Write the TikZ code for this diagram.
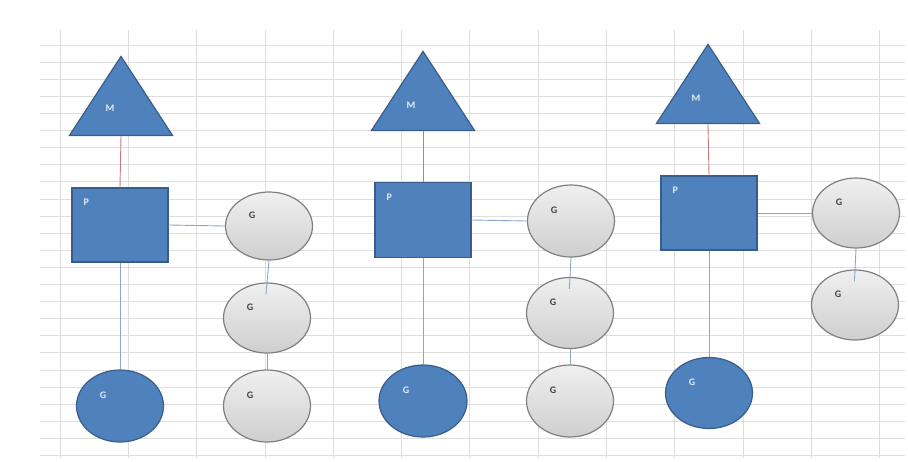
\documentclass[tikz,border=0pt]{standalone}
\usepackage{fontspec}
\setmainfont{Carlito}
\usetikzlibrary{shapes.geometric}
\definecolor{shapeblue}{HTML}{4F81BD}
\definecolor{shapeedge}{HTML}{385D8A}
\definecolor{gedge}{HTML}{7F7F7F}
\definecolor{linkred}{HTML}{C87A7A}
\definecolor{linkblue}{HTML}{8AA6CC}
\definecolor{gridline}{HTML}{DEDEDE}
\begin{document}
\begin{tikzpicture}[x=1pt, y=-1pt,
    mtri/.style={draw=shapeedge, fill=shapeblue, line width=1.2pt, isosceles triangle, isosceles triangle stretches, shape border rotate=90, minimum width=103pt, minimum height=79pt, inner sep=0pt, anchor=lower side},
    pbox/.style={draw=shapeedge, fill=shapeblue, line width=1.2pt, rectangle, minimum width=96pt, minimum height=74pt, inner sep=0pt},
    gblue/.style={draw=shapeedge, fill=shapeblue, line width=1.2pt, ellipse, minimum width=87pt, minimum height=72pt, inner sep=0pt},
    ggray/.style={draw=gedge, top color=gray!12, bottom color=gray!38, line width=1.2pt, ellipse, minimum width=87pt, minimum height=70pt, inner sep=0pt},
    wtext/.style={text=white!85!shapeblue, font=\fontsize{10}{12}\selectfont\bfseries, inner sep=0pt},
    dtext/.style={text=black!75, font=\fontsize{10}{12}\selectfont\bfseries, inner sep=0pt},
    redlink/.style={draw=linkred, line width=0.9pt},
    bluelink/.style={draw=linkblue, line width=0.9pt}]
    \useasboundingbox (0,0) rectangle (908,461);

    % Spreadsheet grid
    \foreach \gx in {0,...,12} {
        \draw[gridline, line width=0.8pt] (60+68.3*\gx, 30) -- (60+68.3*\gx, 458);
    }
    \foreach \gy in {0,...,24} {
        \draw[gridline, line width=0.8pt] (40, 45+17.1*\gy) -- (905, 45+17.1*\gy);
    }

    % Group 1
    \node[mtri] (m1) at (121,136) {};
    \node[pbox] (p1) at (120,225) {};
    \node[gblue] (g1) at (120,406) {};
    \node[ggray, minimum height=68pt] (ga1) at (269,226) {};
    \node[ggray] (ga2) at (267,318) {};
    \node[ggray, minimum height=72pt] (ga3) at (267,406) {};

    % Group 2
    \node[mtri] (m2) at (423,131) {};
    \node[pbox, minimum height=75pt] (p2) at (423,220) {};
    \node[gblue, minimum width=88pt] (g2) at (423,401) {};
    \node[ggray, minimum height=72pt] (gb1) at (571,221) {};
    \node[ggray, minimum height=71pt] (gb2) at (570,313) {};
    \node[ggray, minimum height=72pt] (gb3) at (570,401) {};

    % Group 3
    \node[mtri] (m3) at (708,124) {};
    \node[pbox] (p3) at (709,213) {};
    \node[gblue, minimum height=71pt] (g3) at (709,393) {};
    \node[ggray] (gc1) at (856,213) {};
    \node[ggray] (gc2) at (855,305) {};

    % Links
    \draw[redlink] (m1.lower side) -- (p1.north);
    \draw[redlink] (m2.lower side) -- (p2.north);
    \draw[redlink] (m3.lower side) -- (p3.north);
    \draw[bluelink] (p1.south) -- (g1.north);
    \draw[bluelink] (p2.south) -- (g2.north);
    \draw[bluelink] (p3.south) -- (g3.north);
    \draw[bluelink] (p1.east) -- (ga1.west);
    \draw[bluelink] (p2.east) -- (gb1.west);
    \draw[bluelink] (p3.east) -- (gc1.west);
    \draw[bluelink, shorten >=-12pt] (ga1.south) -- (ga2.north);
    \draw[bluelink] (ga2.south) -- (ga3.north);
    \draw[bluelink, shorten >=-12pt] (gb1.south) -- (gb2.north);
    \draw[bluelink] (gb2.south) -- (gb3.north);
    \draw[bluelink, shorten >=-12pt] (gc1.south) -- (gc2.north);

    % Labels
    \node[wtext] (m1t) at (110,108) {M};
    \node[wtext] (m2t) at (411,105) {M};
    \node[wtext] (m3t) at (696,98) {M};
    \foreach \pn in {p1,p2,p3} {
        \node[wtext] (\pn t) at ([shift={(15,-23)}]\pn.west) {P};
    }
    \foreach \gn in {g1,g2,g3} {
        \node[wtext] (\gn t) at ([shift={(-17,-11)}]\gn.center) {G};
    }
    \foreach \gn in {ga1,ga2,ga3,gb1,gb2,gb3,gc1,gc2} {
        \node[dtext] (\gn t) at ([shift={(-17,-11)}]\gn.center) {G};
    }
\end{tikzpicture}
\end{document}
